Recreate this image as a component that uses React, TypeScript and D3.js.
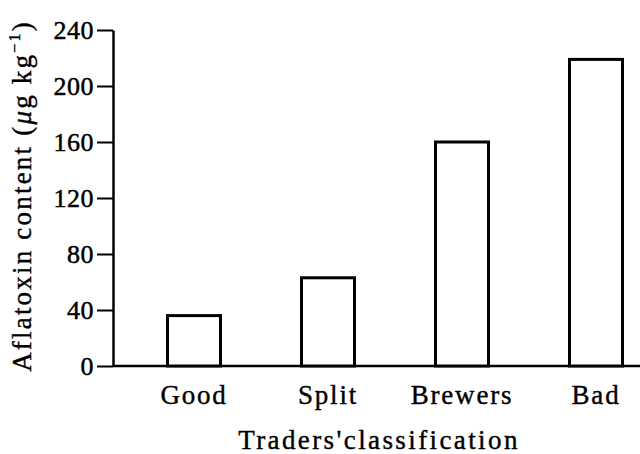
import React, { useRef, useEffect } from 'react';
import * as d3 from 'd3';

const categories = ['Good', 'Split', 'Brewers', 'Bad'];
const aflatoxin = [36, 63, 160, 219];
const yTicks = [0, 40, 80, 120, 160, 200, 240];

const App: React.FC = () => {
    const svgRef = useRef<SVGSVGElement | null>(null);

    useEffect(() => {
        if (!svgRef.current) return;

        const width = 640;
        const height = 454;
        const margin = { top: 30, right: 0, bottom: 88, left: 113 };
        const font = '"Liberation Serif", "Times New Roman", serif';

        const yScale = d3
            .scaleLinear()
            .domain([0, 240])
            .range([height - margin.bottom, margin.top]);

        const xScale = d3
            .scalePoint<string>()
            .domain(categories)
            .range([194, 596]);

        const barWidth = 53;

        const svg = d3.select(svgRef.current);
        svg.selectAll('*').remove();

        // Y axis
        const yAxis = svg.append('g')
            .attr('transform', `translate(${margin.left},0)`)
            .call(d3.axisLeft(yScale).tickValues(yTicks).tickSize(16).tickSizeOuter(0).tickPadding(3));
        yAxis.select('.domain').attr('stroke', '#000').attr('stroke-width', 2.5);
        yAxis.selectAll('.tick line').attr('stroke', '#000').attr('stroke-width', 2);
        yAxis.selectAll('.tick text')
            .attr('font-family', font)
            .attr('font-size', 26)
            .attr('letter-spacing', 0.5)
            .attr('fill', '#000')
            .attr('stroke', '#000')
            .attr('stroke-width', 0.5);

        // baseline
        svg.append('line')
            .attr('x1', margin.left)
            .attr('x2', width)
            .attr('y1', yScale(0))
            .attr('y2', yScale(0))
            .attr('stroke', '#000')
            .attr('stroke-width', 2.5);

        // Bars
        svg.selectAll('rect.bar')
            .data(aflatoxin)
            .join('rect')
            .attr('class', 'bar')
            .attr('x', (d, i) => (xScale(categories[i]) || 0) - barWidth / 2)
            .attr('y', d => yScale(d))
            .attr('width', barWidth)
            .attr('height', d => yScale(0) - yScale(d))
            .attr('fill', 'white')
            .attr('stroke', '#000')
            .attr('stroke-width', 3);

        // Category labels
        svg.selectAll('text.cat')
            .data(categories)
            .join('text')
            .attr('class', 'cat')
            .attr('x', d => xScale(d) || 0)
            .attr('y', 404)
            .attr('text-anchor', 'middle')
            .attr('font-family', font)
            .attr('font-size', 27)
            .attr('letter-spacing', 1.8)
            .attr('stroke', '#000')
            .attr('stroke-width', 0.4)
            .text(d => d);

        // X title
        svg.append('text')
            .attr('x', 379)
            .attr('y', 449)
            .attr('text-anchor', 'middle')
            .attr('font-family', font)
            .attr('font-size', 27)
            .attr('letter-spacing', 2.4)
            .attr('stroke', '#000')
            .attr('stroke-width', 0.4)
            .text("Traders'classification");

        // Y title
        const yTitle = svg.append('text')
            .attr('transform', `translate(31,${(yScale(0) + 26) / 2}) rotate(-90)`)
            .attr('text-anchor', 'middle')
            .attr('font-family', font)
            .attr('font-size', 27)
            .attr('letter-spacing', 2.2)
            .attr('stroke', '#000')
            .attr('stroke-width', 0.4);
        yTitle.append('tspan').text('Aflatoxin content (');
        yTitle.append('tspan').attr('font-style', 'italic').text('μ');
        yTitle.append('tspan').text('g kg');
        yTitle.append('tspan').attr('font-size', 16).attr('dy', -11).text('−1');
        yTitle.append('tspan').attr('dy', 11).text(')');
    }, []);

    return (
        <svg
            ref={svgRef}
            width={640}
            height={454}
            style={{ position: 'absolute', left: 0, top: 0, background: '#fff' }}
        />
    );
};

export default App;
